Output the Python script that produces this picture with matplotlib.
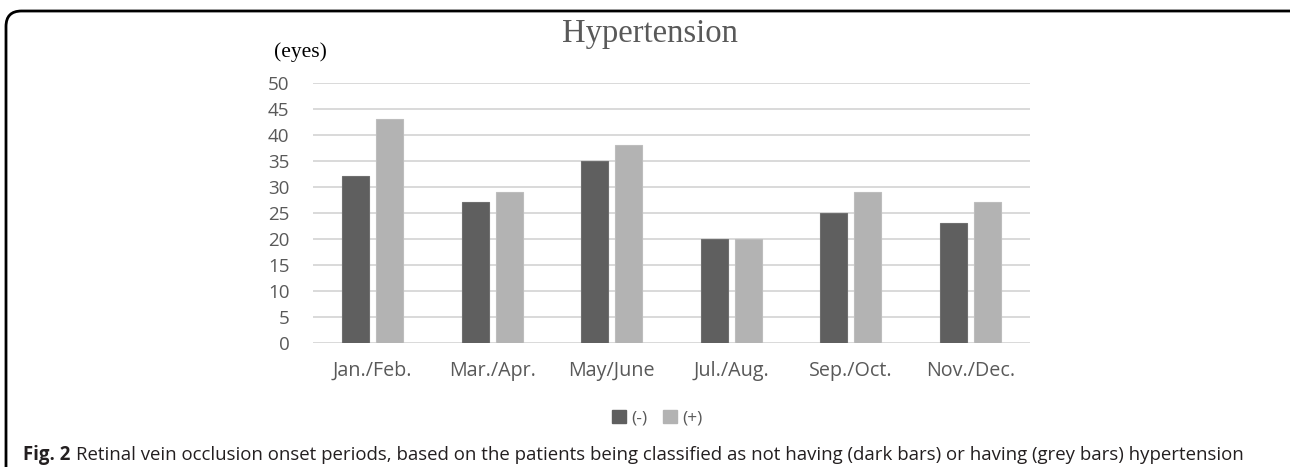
import numpy as np
import matplotlib.pyplot as plt
from matplotlib.patches import FancyBboxPatch, Patch

# Datos
periodos = ["Jan./Feb.", "Mar./Apr.", "May/June", "Jul./Aug.", "Sep./Oct.", "Nov./Dec."]
sin_hta = [32, 27, 35, 20, 25, 23]
con_hta = [43, 29, 38, 20, 29, 27]
etiquetas = ["(-)", "(+)"]

oscuro = "#5f5f5f"
claro = "#b3b3b3"
texto = "#595959"
sans = ["Open Sans", "DejaVu Sans"]

W, H = 1290, 467
fig = plt.figure(figsize=(W / 100, H / 100), dpi=100)

# Marco redondeado
marco = FancyBboxPatch((6 / W, -40 / H), (W + 20) / W, (H + 40 - 11) / H,
                       boxstyle="round,pad=0,rounding_size=0.012",
                       transform=fig.transFigure, fill=False, ec="black", lw=2,
                       mutation_aspect=W / H)
fig.add_artist(marco)

ax = fig.add_axes([313 / W, 124.3 / H, 717 / W, 260 / H])
x = np.arange(len(periodos))
ancho = 0.226
sep = 0.03
ax.bar(x - ancho / 2 - sep, sin_hta, ancho, color=oscuro, edgecolor="#6f6f6f", lw=0.8, zorder=3)
ax.bar(x + ancho / 2 + sep, con_hta, ancho, color=claro, edgecolor="#bdbdbd", lw=0.8, zorder=3)

ax.set_xlim(-0.5, len(periodos) - 0.5)
ax.set_ylim(0, 50)
ax.set_yticks(range(0, 51, 5))
for v in range(0, 51, 5):
    ax.axhline(v, color="#d9d9d9", lw=1.4, zorder=1)
for s in ax.spines.values():
    s.set_visible(False)
ax.set_xticks(x)
ax.set_xticklabels(periodos, fontfamily=sans, fontsize=14.2, color=texto)
ax.tick_params(axis="x", length=0, pad=13)
ax.tick_params(axis="y", length=0, pad=17, labelsize=13.5, labelcolor=texto)
for t in ax.get_yticklabels():
    t.set_fontfamily(sans)

# Titulo y unidad
fig.text(650 / W, 1 - 34 / H, "Hypertension", ha="center", va="center",
         fontfamily="Liberation Serif", fontsize=23.5, color=texto)
fig.text(300 / W, 1 - 52 / H, "(eyes)", ha="center", va="center",
         fontfamily="Liberation Serif", fontsize=15.5, color="black")

# Leyenda
manijas = [Patch(color=oscuro), Patch(color=claro)]
fig.legend(manijas, etiquetas, loc="center", bbox_to_anchor=(657 / W, 1 - 418 / H),
           ncol=2, frameon=False, handlelength=0.8, handleheight=0.8,
           handletextpad=0.3, columnspacing=0.9,
           prop={"family": sans, "size": 12.5}, labelcolor=texto)

# Pie de figura
r = fig.canvas.get_renderer()
t1 = fig.text(23 / W, 1 - 455 / H, "Fig. 2", ha="left", va="center",
              fontfamily=sans, fontsize=13.4, fontweight="bold", color="#231f20")
bb = t1.get_window_extent(r)
fig.text((bb.x1 + 6) / W, 1 - 455 / H,
         "Retinal vein occlusion onset periods, based on the patients being classified as not having "
         "(dark bars) or having (grey bars) hypertension",
         ha="left", va="center", fontfamily=sans, fontsize=13.4, color="#231f20")

fig.savefig("out.png", dpi=100)
